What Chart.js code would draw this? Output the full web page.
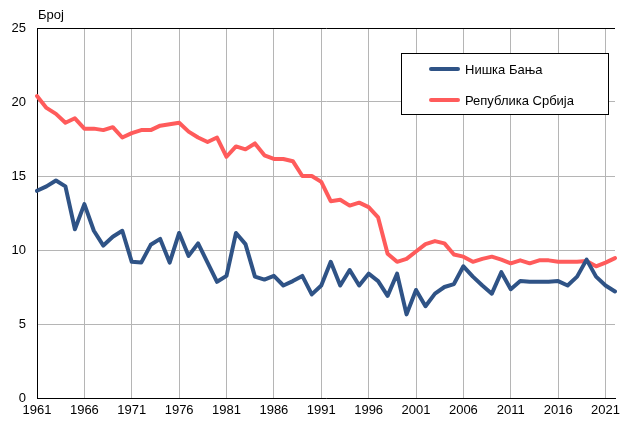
<!DOCTYPE html>
<html>
<head>
<meta charset="utf-8">
<script src="https://cdn.jsdelivr.net/npm/chart.js@4"></script>
<style>
    html, body { margin: 0; padding: 0; background: #fff; }
    #wrap { position: relative; width: 620px; height: 421px; overflow: hidden; }
</style>
</head>
<body>
<div id="wrap"><canvas id="grafico" width="620" height="421"></canvas></div>
<script>
let godine = []
for (let g = 1961; g <= 2022; g++) godine.push(String(g))

let nazivi = ['Нишка Бања', 'Република Србија']
let jedinica = 'Број'

let niskaBanja = [
    14.0, 14.3, 14.7, 14.3, 11.4, 13.1, 11.3, 10.3, 10.9, 11.3,
    9.2, 9.15, 10.35, 10.75, 9.15, 11.15, 9.6, 10.45, 9.15, 7.85,
    8.25, 11.15, 10.4, 8.2, 8.0, 8.25, 7.6, 7.9, 8.25, 7.0,
    7.6, 9.2, 7.6, 8.65, 7.6, 8.4, 7.9, 6.9, 8.4, 5.65,
    7.3, 6.2, 7.05, 7.5, 7.7, 8.9, 8.2, 7.6, 7.05, 8.5,
    7.35, 7.9, 7.85, 7.85, 7.85, 7.9, 7.6, 8.2, 9.35, 8.2,
    7.6, 7.2
]
let srbija = [
    20.4, 19.6, 19.2, 18.6, 18.9, 18.2, 18.2, 18.1, 18.3, 17.6,
    17.9, 18.1, 18.1, 18.4, 18.5, 18.6, 18.0, 17.6, 17.3, 17.6,
    16.3, 17.0, 16.8, 17.2, 16.4, 16.15, 16.15, 16.0, 15.0, 15.0,
    14.6, 13.3, 13.4, 13.0, 13.2, 12.9, 12.2, 9.75, 9.2, 9.4,
    9.9, 10.4, 10.6, 10.45, 9.7, 9.55, 9.2, 9.4, 9.55, 9.35,
    9.1, 9.3, 9.1, 9.3, 9.3, 9.2, 9.2, 9.2, 9.25, 8.9,
    9.15, 9.45
]

let plava = '#2f5386'
let crvena = '#ff5b5b'
let font = { family: '"Liberation Sans", Arial, sans-serif', size: 13 }

// legenda u okviru i natpis jedinice iznad osi
let legendaOkvir = {
    id: 'legendaOkvir',
    afterDraw(chart) {
        let ctx = chart.ctx
        let a = chart.chartArea
        ctx.save()
        ctx.font = '13px "Liberation Sans", Arial, sans-serif'
        ctx.fillStyle = '#000'
        ctx.textBaseline = 'alphabetic'
        ctx.fillText(jedinica, a.left + 1, 19)

        ctx.fillStyle = '#fff'
        ctx.fillRect(401.5, 53.5, 207, 61)
        ctx.strokeStyle = '#000'
        ctx.lineWidth = 1
        ctx.strokeRect(401.5, 53.5, 207, 61)

        let redovi = [69, 100]
        chart.data.datasets.forEach((ds, i) => {
            ctx.strokeStyle = ds.borderColor
            ctx.lineWidth = 4
            ctx.lineCap = 'round'
            ctx.beginPath()
            ctx.moveTo(431, redovi[i])
            ctx.lineTo(458, redovi[i])
            ctx.stroke()
            ctx.fillStyle = '#000'
            ctx.textBaseline = 'middle'
            ctx.fillText(ds.label, 465, redovi[i] + 1)
        })
        ctx.restore()
    }
}

let ctx = document.getElementById('grafico').getContext('2d')
new Chart(ctx, {
    type: 'line',
    data: {
        labels: godine,
        datasets: [{
            label: nazivi[0],
            data: niskaBanja,
            borderColor: plava,
            backgroundColor: plava,
            borderWidth: 4,
            pointRadius: 0,
            tension: 0,
            borderJoinStyle: 'round',
            borderCapStyle: 'round'
        }, {
            label: nazivi[1],
            data: srbija,
            borderColor: crvena,
            backgroundColor: crvena,
            borderWidth: 4,
            pointRadius: 0,
            tension: 0,
            borderJoinStyle: 'round',
            borderCapStyle: 'round'
        }]
    },
    options: {
        responsive: false,
        animation: false,
        layout: { padding: { top: 28, right: 1, bottom: 0, left: 0 } },
        plugins: {
            legend: { display: false },
            tooltip: { enabled: false }
        },
        scales: {
            x: {
                type: 'category',
                offset: false,
                afterFit: (s) => { s.height = 23 },
                border: { color: '#000', width: 1 },
                grid: {
                    drawTicks: false,
                    color: (c) => (c.index % 5 === 0 ? '#b5b5b5' : 'rgba(0,0,0,0)')
                },
                ticks: {
                    autoSkip: false,
                    maxRotation: 0,
                    padding: 5,
                    color: '#000',
                    font: font,
                    callback: function (v, i) { return i % 5 === 0 ? godine[i] : '' }
                }
            },
            y: {
                min: 0,
                max: 25,
                afterFit: (s) => { s.width = 37 },
                border: { color: '#000', width: 1 },
                grid: {
                    drawTicks: false,
                    color: (c) => (c.tick && c.tick.value === 25 ? '#000' : '#b5b5b5')
                },
                ticks: {
                    stepSize: 5,
                    padding: 11,
                    color: '#000',
                    font: font
                }
            }
        }
    },
    plugins: [legendaOkvir]
})
</script>
</body>
</html>
